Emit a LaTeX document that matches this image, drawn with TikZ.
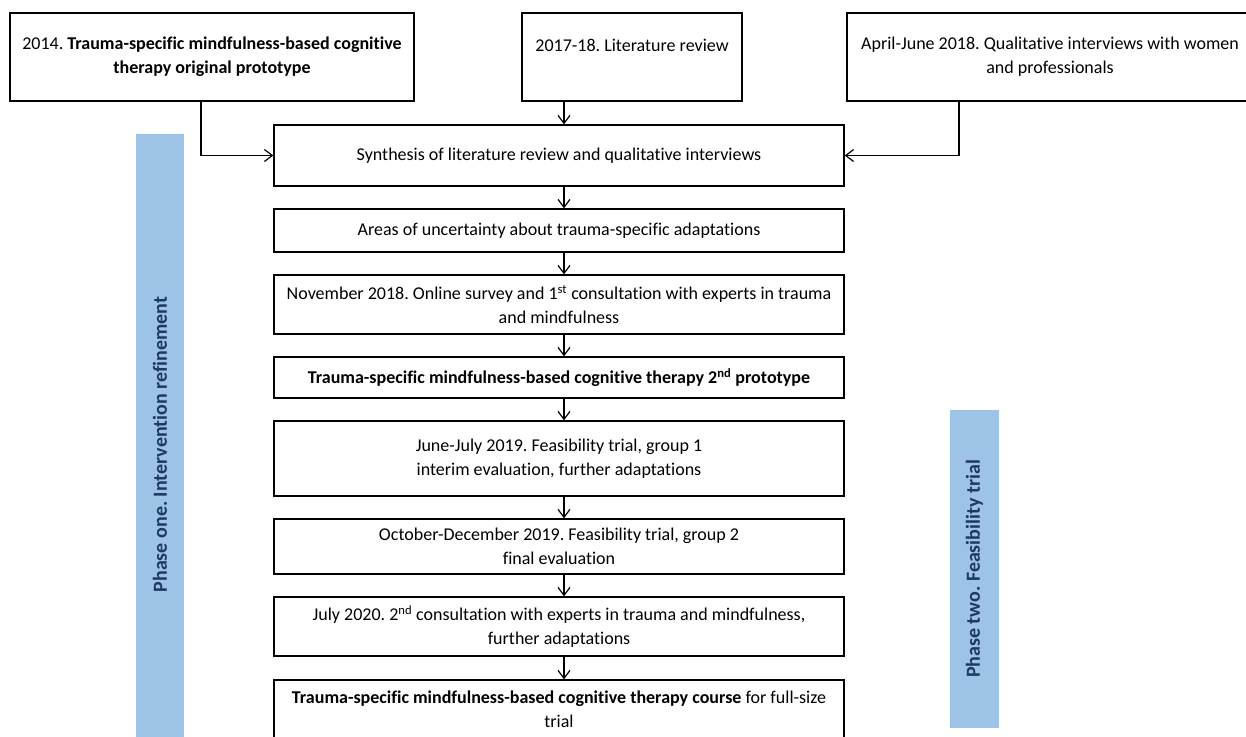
\documentclass[tikz,border=0pt]{standalone}
\usepackage{fontspec}
\setmainfont[Ligatures=NoCommon]{Carlito}
\usetikzlibrary{arrows.meta}
\definecolor{barblue}{HTML}{9DC3E6}
\definecolor{navy}{HTML}{1F3864}
\tikzset{
  box/.style={draw=black, line width=1.3pt, fill=white, rectangle, align=center,
    inner sep=0pt, font=\frenchspacing\fontsize{18}{24}\selectfont},
  arr/.style={draw=black, line width=1.2pt, -{Straight Barb[length=8pt,width=12pt,line width=1.2pt]}},
  phasebar/.style={fill=barblue, rotate=90, inner sep=0pt, text=navy,
    font=\frenchspacing\fontsize{20}{24}\selectfont\bfseries}
}
\begin{document}
\begin{tikzpicture}[x=1pt,y=-1pt]
\useasboundingbox (0,0) rectangle (1246,736);
\clip (0,0) rectangle (1246,736);
% phase bars
\node[phasebar, minimum width=621pt, minimum height=48pt] (p1) at (160,444.5) {Phase one. Intervention refinement};
\node[phasebar, minimum width=318pt, minimum height=49pt] (p2) at (974.5,569) {Phase two. Feasibility trial};
% top boxes
\node[box, minimum width=404pt, minimum height=88pt] (A) at (212,57)
  {2014. \textbf{Trauma-specific mindfulness-based cognitive}\\\textbf{therapy original prototype}};
\node[box, minimum width=220pt, minimum height=88pt] (B) at (632,57)
  {2017-18. Literature review\\\mbox{}};
\node[box, minimum width=406pt, minimum height=88pt] (C) at (1050,57)
  {April-June 2018. Qualitative interviews with women\\and professionals};
% main column
\node[box, minimum width=570pt, minimum height=61pt] (syn) at (559,155.5)
  {Synthesis of literature review and qualitative interviews};
\node[box, minimum width=570pt, minimum height=43pt] (areas) at (559,230.5)
  {Areas of uncertainty about trauma-specific adaptations};
\node[box, minimum width=570pt, minimum height=59pt] (nov) at (559,304.5)
  {November 2018. Online survey and 1\textsuperscript{st} consultation with experts in trauma\\and mindfulness};
\node[box, minimum width=570pt, minimum height=41pt] (proto) at (559,377.5)
  {\textbf{Trauma-specific mindfulness-based cognitive therapy 2\textsuperscript{nd} prototype}};
\node[box, minimum width=570pt, minimum height=75pt] (june) at (559,458.5)
  {June-July 2019. Feasibility trial, group 1\\interim evaluation, further adaptations};
\node[box, minimum width=570pt, minimum height=55pt] (oct) at (559,546.5)
  {October-December 2019. Feasibility trial, group 2\\final evaluation};
\node[box, minimum width=570pt, minimum height=59pt] (jul) at (559,626.5)
  {July 2020. 2\textsuperscript{nd} consultation with experts in trauma and mindfulness,\\further adaptations};
\node[box, minimum width=570pt, minimum height=59pt] (course) at (559,709.5)
  {\textbf{Trauma-specific mindfulness-based cognitive therapy course} for full-size\\trial};
% connector columns
\coordinate (ax) at (564,0);
% connectors
\draw[arr] ([xshift=-11pt]A.south) |- (syn.west);
\draw[arr] (B.south -| ax) -- (syn.north -| ax);
\draw[arr] ([xshift=-91pt]C.south) |- (syn.east);
\draw[arr] (syn.south -| ax) -- (areas.north -| ax);
\draw[arr] (areas.south -| ax) -- (nov.north -| ax);
\draw[arr] (nov.south -| ax) -- (proto.north -| ax);
\draw[arr] (proto.south -| ax) -- (june.north -| ax);
\draw[arr] (june.south -| ax) -- (oct.north -| ax);
\draw[arr] (oct.south -| ax) -- (jul.north -| ax);
\draw[arr] (jul.south -| ax) -- (course.north -| ax);
\end{tikzpicture}
\end{document}
